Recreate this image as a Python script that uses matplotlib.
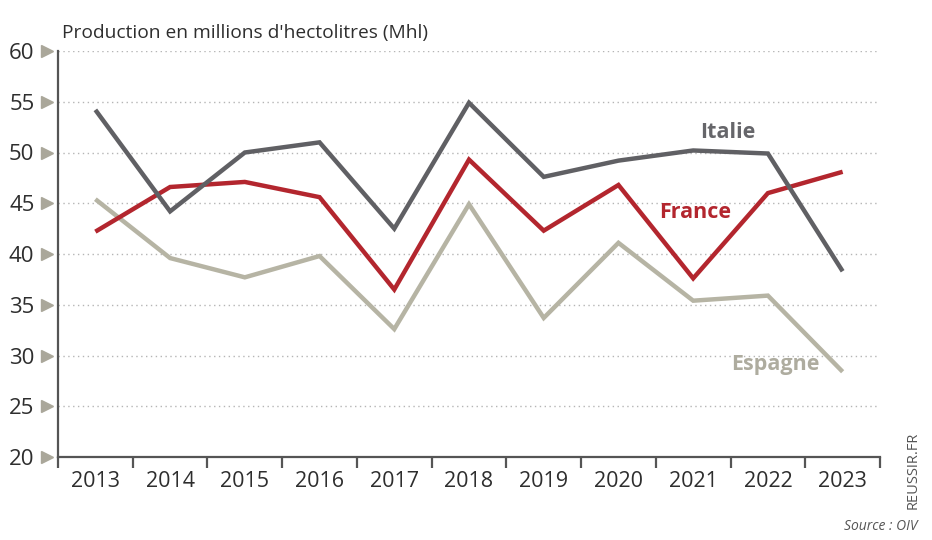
import matplotlib.pyplot as plt
import numpy as np
from matplotlib.transforms import blended_transform_factory

plt.rc("font", family="Open Sans")

years = ["2013", "2014", "2015", "2016", "2017", "2018",
         "2019", "2020", "2021", "2022", "2023"]
italie = [54.2, 44.2, 50.0, 51.0, 42.5, 54.9, 47.6, 49.2, 50.2, 49.9, 38.3]
france = [42.2, 46.6, 47.1, 45.6, 36.5, 49.3, 42.3, 46.8, 37.6, 46.0, 48.1]
espagne = [45.4, 39.6, 37.7, 39.8, 32.6, 44.9, 33.7, 41.1, 35.4, 35.9, 28.4]
yticks = [20, 25, 30, 35, 40, 45, 50, 55, 60]

C_IT = "#606064"
C_FR = "#b3262e"
C_ES = "#b6b4a4"
C_TXT = "#2e2e2e"
C_TRI = "#aaa79a"

fig = plt.figure(figsize=(9.32, 5.40), dpi=100)
ax = fig.add_axes([58 / 932, 1 - 457 / 540, 822 / 932, 406 / 540])

x = np.arange(len(years))
for vals, col in [(espagne, C_ES), (france, C_FR), (italie, C_IT)]:
    ax.plot(x, vals, color=col, lw=3.2, solid_joinstyle="miter",
            solid_capstyle="butt", zorder=3)

ax.set_xlim(-0.5, len(years) - 0.5)
ax.set_ylim(20, 60)

# dotted grid
for v in yticks[1:]:
    ax.axhline(v, color="#b5b5b5", lw=1.0, ls=(0, (1, 2.5)), zorder=1)

for s in ["top", "right"]:
    ax.spines[s].set_visible(False)
for s in ["left", "bottom"]:
    ax.spines[s].set_color("#555555")
    ax.spines[s].set_linewidth(1.6)

ax.set_xticks(x)
ax.set_xticklabels(years, fontsize=15.5, color=C_TXT)
ax.tick_params(axis="x", which="major", length=0, pad=10)
ax.set_xticks(np.arange(-0.5, len(years)), minor=True)
ax.tick_params(axis="x", which="minor", length=8, width=1.6, color="#555555")

ax.set_yticks(yticks)
ax.set_yticklabels([str(v) for v in yticks], fontsize=16, color=C_TXT)
ax.tick_params(axis="y", length=0, pad=17)

trans = blended_transform_factory(ax.transAxes, ax.transData)
ax.plot([-0.0135] * len(yticks), yticks, ls="none", marker=">", ms=9,
        color=C_TRI, transform=trans, clip_on=False)

ax.text(0.005, 1.045, "Production en millions d'hectolitres (Mhl)",
        transform=ax.transAxes, fontsize=13.8, color=C_TXT, va="center")

ax.text(8.46, 52.0, "Italie", color="#66666a", fontsize=15.5, weight="bold",
        ha="center", va="center")
ax.text(8.03, 44.1, "France", color=C_FR, fontsize=15.5, weight="bold",
        ha="center", va="center")
ax.text(9.1, 29.1, "Espagne", color="#aeac9f", fontsize=15.5, weight="bold",
        ha="center", va="center")

fig.text(913 / 932, 1 - 470 / 540, "REUSSIR.FR", rotation=90, fontsize=10.5,
         color="#555555", ha="center", va="center")
fig.text(918 / 932, 1 - 527 / 540, "Source : OIV", fontsize=10, style="italic",
         color="#555555", ha="right", va="center")

fig.savefig("out.png", dpi=100)
